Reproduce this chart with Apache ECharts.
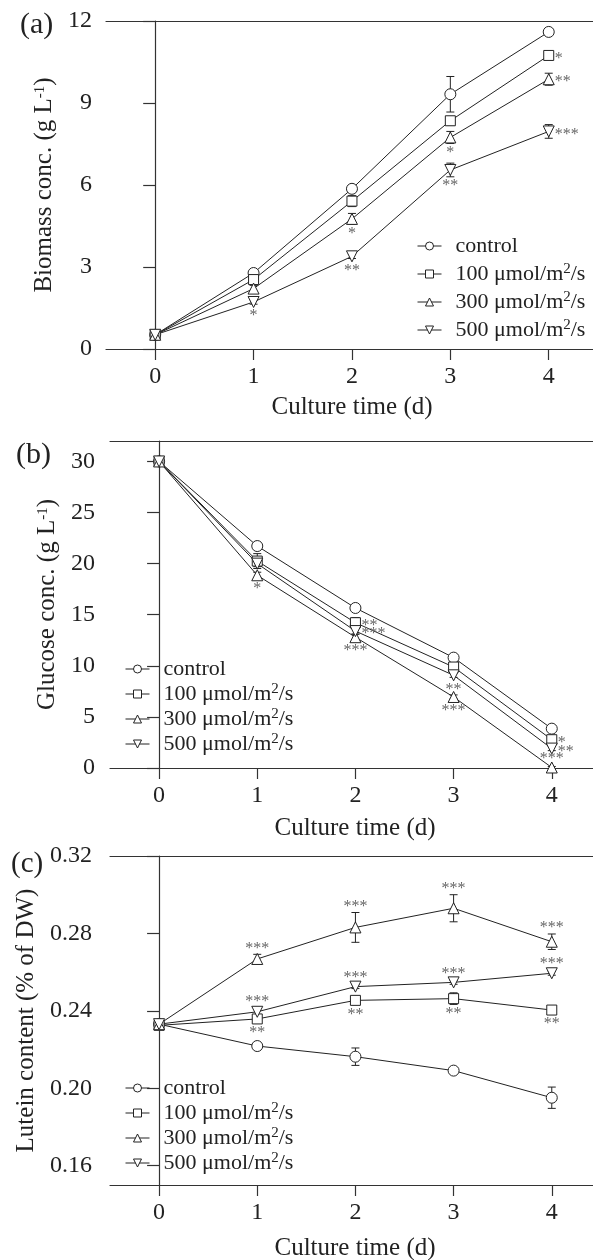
<!DOCTYPE html>
<html>
<head>
<meta charset="utf-8">
<script src="https://cdn.jsdelivr.net/npm/echarts@6/dist/echarts.min.js"></script>
<style>
  body { margin: 0; background: #fff; }
  #container { width: 593px; height: 1260px; }
</style>
</head>
<body>
<div id="container"></div>
<script>
  var days = [0, 1, 2, 3, 4];
  var seriesNames = ['control', '100 μmol/m²/s', '300 μmol/m²/s', '500 μmol/m²/s'];

  // (a) biomass, g/L
  var biomassControl = [0.52, 2.78, 5.86, 9.32, 11.60];
  var biomass100 = [0.52, 2.54, 5.41, 8.35, 10.74];
  var biomass300 = [0.52, 2.21, 4.76, 7.74, 9.87];
  var biomass500 = [0.52, 1.72, 3.39, 6.55, 7.96];
  var biomassControlSd = [0.05, 0.10, 0.10, 0.65, 0.08];
  var biomass100Sd = [0.05, 0.10, 0.20, 0.15, 0.08];
  var biomass300Sd = [0.05, 0.12, 0.20, 0.22, 0.22];
  var biomass500Sd = [0.05, 0.08, 0.08, 0.25, 0.25];
  var biomassStars100 = ['', '', '', '', '*'];
  var biomassStars300 = ['', '', '*', '*', '**'];
  var biomassStars500 = ['', '*', '**', '**', '***'];

  // (b) glucose, g/L
  var glucoseControl = [30, 21.72, 15.66, 10.80, 3.85];
  var glucose100 = [30, 20.25, 14.22, 9.88, 2.77];
  var glucose300 = [30, 18.86, 12.80, 6.95, 0.05];
  var glucose500 = [30, 20.00, 13.40, 9.07, 1.90];
  var glucoseControlSd = [0.1, 0.2, 0.2, 0.2, 0.2];
  var glucose100Sd = [0.1, 0.73, 0.5, 0.5, 0.3];
  var glucose300Sd = [0.1, 0.3, 0.3, 0.2, 0.1];
  var glucose500Sd = [0.1, 0.3, 0.3, 0.2, 0.2];
  var glucoseStars100 = ['', '', '**', '', '*'];
  var glucoseStars300 = ['', '*', '***', '***', '***'];
  var glucoseStars500 = ['', '', '***', '**', '**'];

  // (c) lutein, % of DW
  var luteinControl = [0.2331, 0.2218, 0.2163, 0.2091, 0.1951];
  var lutein100 = [0.2325, 0.2358, 0.2454, 0.2463, 0.2404];
  var lutein300 = [0.2331, 0.2668, 0.2831, 0.2930, 0.2757];
  var lutein500 = [0.2331, 0.2395, 0.2525, 0.2547, 0.2594];
  var luteinControlSd = [0.002, 0.001, 0.0045, 0.001, 0.0055];
  var lutein100Sd = [0.002, 0.002, 0.002, 0.003, 0.002];
  var lutein300Sd = [0.002, 0.0024, 0.0077, 0.007, 0.004];
  var lutein500Sd = [0.002, 0.002, 0.001, 0.001, 0.001];
  var luteinStars100 = ['', '**', '**', '**', '**'];
  var luteinStars300 = ['', '***', '***', '***', '***'];
  var luteinStars500 = ['', '***', '***', '***', '***'];

  // where the stars sit: b = below, r = right, t = top
  var biomassPlace = [['', '', '', '', 'r'], ['', '', 'b', 'b', 'r'], ['', 'b', 'b', 'b', 'r']];
  var glucosePlace = [['', '', 'r', '', 'r'], ['', 'b', 'b', 'b', 't'], ['', '', 'r', 'b', 'r']];
  var luteinPlace = [['', 'b', 'b', 'b', 'b'], ['', 't', 't', 't', 't'], ['', 't', 't', 't', 't']];

  var FONT = 'Liberation Serif';
  var INK = '#222';
  var AXIS = '#333';
  var symbols = [
    'circle',
    'rect',
    'path://M5,0 L10,9 L0,9 Z',
    'path://M0,0 L10,0 L5,9 Z'
  ];

  function lineSeries(gi, si, vals) {
    return {
      type: 'line',
      name: seriesNames[si],
      xAxisIndex: gi * 2,
      yAxisIndex: gi,
      data: days.map(function (d, i) { return [d, vals[i]]; }),
      symbol: symbols[si],
      symbolSize: si === 1 ? 10 : 11,
      showAllSymbol: true,
      itemStyle: {color: '#fff', borderColor: INK, borderWidth: 1},
      lineStyle: {color: INK, width: 1},
      emphasis: {disabled: true},
      z: 3
    };
  }

  function errorSeries(gi, vals, sds) {
    return {
      type: 'custom',
      xAxisIndex: gi * 2,
      yAxisIndex: gi,
      silent: true,
      z: 2,
      encode: {x: 0, y: 1},
      data: days.map(function (d, i) { return [d, vals[i], sds[i]]; }),
      renderItem: function (params, api) {
        var x = api.value(0), m = api.value(1), s = api.value(2);
        var top = api.coord([x, m + s]);
        var bot = api.coord([x, m - s]);
        var w = 4;
        var st = {stroke: INK, lineWidth: 1};
        return {
          type: 'group',
          children: [
            {type: 'line', shape: {x1: top[0], y1: top[1], x2: bot[0], y2: bot[1]}, style: st},
            {type: 'line', shape: {x1: top[0] - w, y1: top[1], x2: top[0] + w, y2: top[1]}, style: st},
            {type: 'line', shape: {x1: bot[0] - w, y1: bot[1], x2: bot[0] + w, y2: bot[1]}, style: st}
          ]
        };
      }
    };
  }

  function starSeries(gi, vals, sds, stars, place) {
    var list = [];
    days.forEach(function (d, i) {
      if (stars[i]) list.push({x: d, y: vals[i], sd: sds[i], text: stars[i], place: place[i]});
    });
    return {
      type: 'custom',
      xAxisIndex: gi * 2,
      yAxisIndex: gi,
      silent: true,
      z: 4,
      encode: {x: 0, y: 1},
      data: list.map(function (s) { return [s.x, s.y]; }),
      renderItem: function (params, api) {
        var s = list[params.dataIndex];
        var p = api.coord([s.x, s.y]);
        var tx = p[0], ty, align = 'center';
        if (s.place === 'r') {
          tx = p[0] + 6;
          ty = p[1] + 1;
          align = 'left';
        } else if (s.place === 't') {
          ty = Math.min(p[1] - 11, api.coord([s.x, s.y + s.sd])[1] - 8);
        } else {
          ty = Math.max(p[1] + 12, api.coord([s.x, s.y - s.sd])[1] + 7);
        }
        return {
          type: 'text',
          style: {
            text: s.text, x: tx, y: ty + 2,
            align: align, verticalAlign: 'middle',
            fill: '#666', font: '16px "' + FONT + '"'
          }
        };
      }
    };
  }

  function xAxes(gi, min, max) {
    return [{
      type: 'value', gridIndex: gi, min: min, max: max,
      splitLine: {show: false},
      axisLine: {lineStyle: {color: AXIS, width: 1.2}},
      axisTick: {length: 11, customValues: days, lineStyle: {color: AXIS, width: 1.2}},
      axisLabel: {customValues: days, margin: 16, fontFamily: FONT, fontSize: 24, color: INK}
    }, {
      type: 'value', gridIndex: gi, position: 'top', min: min, max: max,
      splitLine: {show: false},
      axisLine: {lineStyle: {color: AXIS, width: 1.2}},
      axisTick: {show: false},
      axisLabel: {show: false}
    }];
  }

  var supRich = {
    sup: {fontFamily: FONT, fontSize: 15, color: INK, verticalAlign: 'top', padding: [0, 0, 10, 0]},
    gap: {width: 9}
  };

  function yAxis(gi, name, min, max, ticks, gap, margin, digits) {
    return {
      type: 'value', gridIndex: gi, min: min, max: max,
      name: name, nameLocation: 'middle', nameGap: gap,
      nameTextStyle: {fontFamily: FONT, fontSize: 25, color: INK, rich: supRich},
      splitLine: {show: false},
      axisLine: {show: true, lineStyle: {color: AXIS, width: 1.2}},
      axisTick: {show: true, length: 12, customValues: ticks, lineStyle: {color: AXIS, width: 1.2}},
      axisLabel: {
        customValues: ticks, margin: margin, fontFamily: FONT, fontSize: 24, color: INK,
        formatter: function (v) { return v.toFixed(digits); }
      }
    };
  }

  function legend(left, top, gap) {
    return {
      orient: 'vertical', left: left, top: top, padding: 0,
      itemWidth: 24, itemHeight: 10, itemGap: gap,
      selectedMode: false,
      data: seriesNames,
      lineStyle: {width: 1},
      itemStyle: {borderWidth: 1},
      formatter: function (name) {
        return '{gap|}' + name.replace('²', '{sup|2}');
      },
      textStyle: {fontFamily: FONT, fontSize: 22, color: INK, lineHeight: 24, rich: supRich}
    };
  }

  function label(text, x, y, size, align) {
    return {
      type: 'text', x: x, y: y,
      style: {text: text, fill: INK, font: size + 'px "' + FONT + '"', align: align, verticalAlign: 'middle'}
    };
  }

  var myChart = echarts.init(document.getElementById('container'), null, {renderer: 'canvas'});

  var option = {
    animation: false,
    backgroundColor: '#fff',
    grid: [
      {left: 106, top: 21, right: 0, height: 328},
      {left: 110, top: 441, right: 0, height: 327},
      {left: 110, top: 856, right: 0, height: 329}
    ],
    xAxis: [].concat(xAxes(0, -0.5, 4.45), xAxes(1, -0.5, 4.42), xAxes(2, -0.5, 4.42)),
    yAxis: [
      yAxis(0, 'Biomass conc. (g L{sup|-1})', 0, 12, [0, 3, 6, 9, 12], 41, 14, 0),
      yAxis(1, 'Glucose conc. (g L{sup|-1})', 0, 32, [0, 5, 10, 15, 20, 25, 30], 40, 15, 0),
      yAxis(2, 'Lutein content (% of DW)', 0.15, 0.32, [0.16, 0.20, 0.24, 0.28, 0.32], 64, 18, 2)
    ],
    legend: [legend(417, 234, 4), legend(125, 657, 1), legend(125, 1076, 1)],
    graphic: [
      label('(a)', 20, 25, 30, 'left'),
      label('(b)', 16, 455, 30, 'left'),
      label('(c)', 11, 864, 29, 'left'),
      label('Culture time (d)', 352, 407, 25, 'center'),
      label('Culture time (d)', 355, 828, 25, 'center'),
      label('Culture time (d)', 355, 1248, 25, 'center')
    ],
    series: [
      errorSeries(0, biomassControl, biomassControlSd),
      errorSeries(0, biomass100, biomass100Sd),
      errorSeries(0, biomass300, biomass300Sd),
      errorSeries(0, biomass500, biomass500Sd),
      lineSeries(0, 0, biomassControl),
      lineSeries(0, 1, biomass100),
      lineSeries(0, 2, biomass300),
      lineSeries(0, 3, biomass500),
      starSeries(0, biomass100, biomass100Sd, biomassStars100, biomassPlace[0]),
      starSeries(0, biomass300, biomass300Sd, biomassStars300, biomassPlace[1]),
      starSeries(0, biomass500, biomass500Sd, biomassStars500, biomassPlace[2]),

      errorSeries(1, glucoseControl, glucoseControlSd),
      errorSeries(1, glucose100, glucose100Sd),
      errorSeries(1, glucose300, glucose300Sd),
      errorSeries(1, glucose500, glucose500Sd),
      lineSeries(1, 0, glucoseControl),
      lineSeries(1, 1, glucose100),
      lineSeries(1, 2, glucose300),
      lineSeries(1, 3, glucose500),
      starSeries(1, glucose100, glucose100Sd, glucoseStars100, glucosePlace[0]),
      starSeries(1, glucose300, glucose300Sd, glucoseStars300, glucosePlace[1]),
      starSeries(1, glucose500, glucose500Sd, glucoseStars500, glucosePlace[2]),

      errorSeries(2, luteinControl, luteinControlSd),
      errorSeries(2, lutein100, lutein100Sd),
      errorSeries(2, lutein300, lutein300Sd),
      errorSeries(2, lutein500, lutein500Sd),
      lineSeries(2, 0, luteinControl),
      lineSeries(2, 1, lutein100),
      lineSeries(2, 2, lutein300),
      lineSeries(2, 3, lutein500),
      starSeries(2, lutein100, lutein100Sd, luteinStars100, luteinPlace[0]),
      starSeries(2, lutein300, lutein300Sd, luteinStars300, luteinPlace[1]),
      starSeries(2, lutein500, lutein500Sd, luteinStars500, luteinPlace[2])
    ]
  };

  myChart.setOption(option, true);
</script>
</body>
</html>
